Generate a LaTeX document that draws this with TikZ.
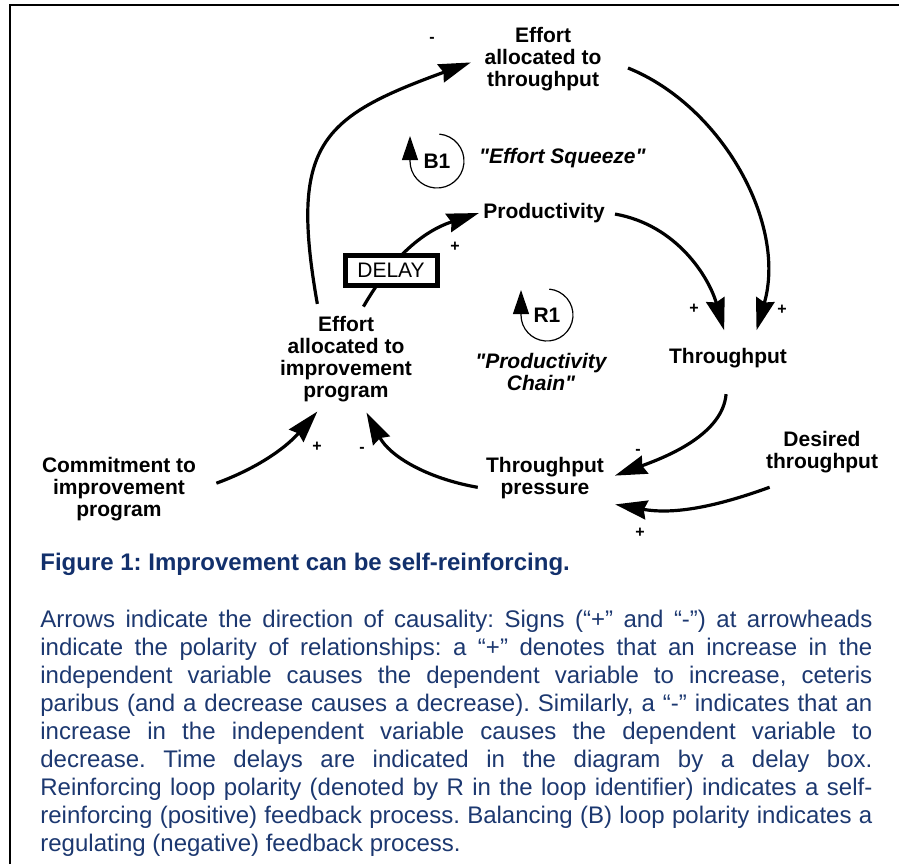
\documentclass[tikz,border=0pt]{standalone}
\usepackage{fontspec}
\setmainfont{Liberation Sans}
\usetikzlibrary{arrows.meta}
\definecolor{captionblue}{RGB}{18,48,108}
\definecolor{textblue}{RGB}{28,56,112}
\frenchspacing
\begin{document}
\begin{tikzpicture}[x=0.5pt, y=0.5pt, >={Stealth[length=16pt,width=9.5pt,inset=1.5pt]},
        every node/.style={font=\fontsize{10.5}{11}\selectfont\bfseries},
        var/.style={align=center, inner sep=2pt},
        link/.style={->, line width=1.6pt},
        sign/.style={font=\fontsize{8}{8}\selectfont\bfseries, inner sep=0pt},
        loopline/.style={line width=0.6pt, -{Triangle[length=12pt,width=8pt]}},
        looptext/.style={font=\fontsize{10.5}{11}\selectfont\bfseries\itshape, align=center},
        delaybox/.style={draw, line width=2.5pt, fill=white, font=\fontsize{10.5}{11}\selectfont,
            minimum width=46pt, minimum height=15pt, inner sep=0pt}]
    \useasboundingbox (0,0) rectangle (899,-864);
    \draw[line width=1pt] (10,-864) -- (10,-5) -- (899,-5);
    \node[var] (eat)  at (543,-59)  {Effort\\allocated to\\throughput};
    \node[var] (prod) at (544,-213) {Productivity};
    \node[var] (thr)  at (728,-358) {Throughput};
    \node[var] (eai)  at (346,-359) {Effort\\allocated to\\improvement\\program};
    \node[var] (tp)   at (545,-478) {Throughput\\pressure};
    \node[var] (dt)   at (822,-452) {Desired\\throughput};
    \node[var] (com)  at (119,-489) {Commitment to\\improvement\\program};
    \node (bone) at (437,-161) {B1};
    \node[looptext, anchor=west] (squeeze) at (472,-158) {\textquotedbl Effort Squeeze\textquotedbl};
    \draw[loopline] (bone.center) ++(85:27) arc[start angle=85, end angle=-180, radius=27] -- ++(0,25);
    \node (rone) at (547,-315) {R1};
    \node[looptext] (chain) at (541,-372) {\textquotedbl Productivity\\Chain\textquotedbl};
    \draw[loopline] (rone.center) ++(85:26) arc[start angle=85, end angle=-180, radius=26] -- ++(0,25);
    \draw[link, shorten <=4pt, shorten >=5pt] (eai.120) to[out=100, in=200, looseness=1.45] (eat.west);
    \draw[link, shorten <=12pt, shorten >=7pt] (eat.east) to[out=-22, in=74, looseness=1] (thr.30);
    \draw[link, shorten <=3pt, shorten >=7pt] (prod.east) to[out=-10, in=106] (thr.north);
    \draw[link, shorten <=3pt] (eai.73) to[out=60, in=198] (prod.west);
    \node[delaybox] (delay) at (391,-270) {DELAY};
    \draw[link, shorten <=11pt, shorten >=3.5pt] (thr.south) to[out=-95, in=20] (tp.east);
    \draw[link, shorten >=3.5pt] ([xshift=4pt, yshift=-5pt]dt.south west) to[out=200, in=-10] (tp.south east);
    \draw[link, shorten <=2pt, shorten >=3.5pt] (tp.189) to[out=170, in=-62] (eai.-70);
    \draw[link, shorten <=8.5pt, shorten >=3.5pt] (com.east) to[out=20, in=229] (eai.-117);
    \foreach \px/\py/\sgn [count=\i] in {432/40/-, 455/247/+, 694/309/+, 782/310/+,
            638/452/-, 640/533/+, 317/447/+, 362/450/-} {
        \node[sign] (sign\i) at (\px,-\py) {\sgn};
    }
    \node[font=\fontsize{12}{14}\selectfont\bfseries, text=captionblue, anchor=west, inner sep=0pt]
        (caption) at (40,-564) {Figure 1: Improvement can be self-reinforcing.};
    \node[font=\fontsize{12}{14}\selectfont, text=textblue, text width=416pt, align=justify,
        anchor=north west, inner sep=0pt] (notes) at (40,-610) {\hyphenpenalty=10000
        Arrows indicate the direction of causality: Signs (“+” and “-”) at arrowheads\linebreak
        indicate the polarity of relationships: a “+” denotes that an increase in the\linebreak
        independent variable causes the dependent variable to increase, ceteris\linebreak
        paribus (and a decrease causes a decrease). Similarly, a “-” indicates that an\linebreak
        increase in the independent variable causes the dependent variable to\linebreak
        decrease. Time delays are indicated in the diagram by a delay box.\linebreak
        Reinforcing loop polarity (denoted by R in the loop identifier) indicates a self-\linebreak
        reinforcing (positive) feedback process. Balancing (B) loop polarity indicates a\linebreak
        regulating (negative) feedback process.};
\end{tikzpicture}
\end{document}
